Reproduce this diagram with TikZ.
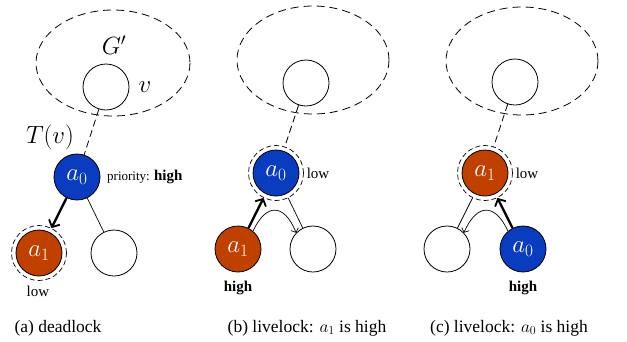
\documentclass[tikz,border=0pt]{standalone}
\usepackage{fontspec}
\setmainfont{Liberation Serif}
\usetikzlibrary{arrows.meta}
\definecolor{agentblue}{HTML}{0A3CC0}
\definecolor{agentorange}{HTML}{C04000}
\tikzset{
  vert/.style={circle,draw,line width=0.8pt,minimum size=46pt,inner sep=0pt,font=\fontsize{26}{26}\selectfont},
  blueagent/.style={vert,fill=agentblue,text=white},
  orangeagent/.style={vert,fill=agentorange,text=white},
  ring/.style={circle,draw,dash pattern=on 5pt off 3pt,line width=0.7pt,minimum size=55pt,inner sep=0pt},
  cloud/.style={draw,dash pattern=on 8pt off 5pt,line width=0.8pt},
  treeedge/.style={dash pattern=on 7pt off 4pt,line width=0.8pt},
  hold/.style={line width=2.4pt,-{Straight Barb[length=5.5pt,width=12pt,line width=1.8pt]}},
  plainedge/.style={line width=0.7pt},
  swing/.style={line width=0.7pt,-{Straight Barb[length=3.5pt,width=8pt]}},
  prio/.style={font=\fontsize{15}{15}\selectfont},
  caption/.style={font=\fontsize{17.5}{17.5}\selectfont},
  mathlabel/.style={font=\fontsize{26}{26}\selectfont},
}
\begin{document}
\begin{tikzpicture}[x=1pt,y=-1pt]
\useasboundingbox (0,0) rectangle (627,341);

% ---------- (a) deadlock ----------
\draw[cloud] (113,63) ellipse [x radius=77, y radius=53];
\node[vert] (va) at (106,87) {};
\node[mathlabel] at (114,45) {$G'$};
\node[mathlabel] at (145,87) {$v$};
\node[mathlabel] at (50,137) {$T(v)$};
\node[blueagent] (a0a) at (77,177) {$a_0$};
\node[orangeagent] (a1a) at (39,253) {$a_1$};
\node[ring] (r1a) at (39,253) {};
\node[vert] (ea) at (114,253) {};
\node[anchor=west,inner sep=0pt] at (107,177) {\fontsize{13}{13}\selectfont priority: \fontsize{15}{15}\selectfont\textbf{high}};
\node[prio] at (38,291) {low};
\draw[treeedge] (va) -- (a0a);
\draw[hold] (a0a) -- (r1a);
\draw[plainedge] (a0a) -- (ea);

% ---------- (b) livelock, a1 is high ----------
\draw[cloud] (313,60) ellipse [x radius=76, y radius=54];
\node[vert] (vb) at (306,83) {};
\node[blueagent] (a0b) at (276,173) {$a_0$};
\node[ring] (r0b) at (276,173) {};
\node[orangeagent] (a1b) at (238,249) {$a_1$};
\node[vert] (eb) at (313,249) {};
\node[prio] at (318,173) {low};
\node[prio] at (238,288) {\textbf{high}};
\draw[treeedge] (vb) -- (r0b);
\draw[hold] (a1b) -- (r0b);
\draw[plainedge] (r0b) -- (eb);
\draw[swing] (a1b.50) .. controls (266,203) and (284,203) .. (eb.136);

% ---------- (c) livelock, a0 is high ----------
\draw[cloud] (522,61) ellipse [x radius=76, y radius=54];
\node[vert] (vc) at (515,82) {};
\node[orangeagent] (a1c) at (485,173) {$a_1$};
\node[ring] (r1c) at (485,173) {};
\node[vert] (ec) at (447,249) {};
\node[blueagent] (a0c) at (523,249) {$a_0$};
\node[prio] at (527,173) {low};
\node[prio] at (523,288) {\textbf{high}};
\draw[treeedge] (vc) -- (r1c);
\draw[hold] (a0c) -- (r1c);
\draw[plainedge] (r1c) -- (ec);
\draw[swing] (a0c.130) .. controls (495,203) and (477,203) .. (ec.44);

% ---------- captions ----------
\node[caption] at (58,328) {(a) deadlock};
\node[caption] at (307,328) {(b) livelock: $a_1$ is high};
\node[caption] at (509,328) {(c) livelock: $a_0$ is high};
\end{tikzpicture}
\end{document}
